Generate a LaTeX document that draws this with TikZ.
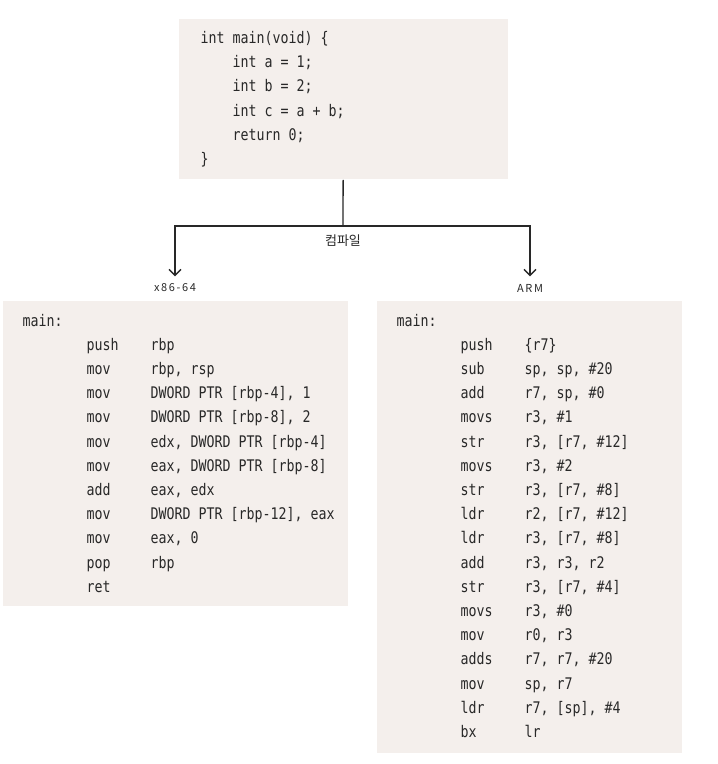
\documentclass[tikz,border=0pt]{standalone}
\usepackage{fontspec}
\setmonofont[FakeStretch=0.83]{DejaVu Sans Mono}
\newfontfamily\krfont{Noto Sans CJK KR}
\newfontfamily\tagfont[LetterSpace=15]{Noto Sans CJK KR}
\usepackage{tikz}
\usetikzlibrary{positioning, arrows.meta}

\definecolor{boxfill}{RGB}{244,239,236}
\definecolor{ink}{RGB}{40,40,40}

\begin{document}
\begin{tikzpicture}[x=1pt, y=-1pt, line width=1.3pt,
    codebox/.style={fill=boxfill, draw=none, anchor=north west, inner sep=0pt},
    code/.style={anchor=base west, inner sep=0pt, text=ink,
      font=\ttfamily\fontsize{16}{24.2}\selectfont},
    tag/.style={text=ink, inner sep=2pt, font=\tagfont\fontsize{11}{13}\selectfont},
    >={Straight Barb[length=6pt, width=12pt]}]
    \useasboundingbox (0, 0) rectangle (718, 764);

    % draw the three grey boxes
    \node[codebox, minimum width=329pt, minimum height=160pt] (src) at (178, 18.5) {};
    \node[codebox, minimum width=345pt, minimum height=304.5pt] (x86) at (2, 300.5) {};
    \node[codebox, minimum width=304.5pt, minimum height=451.5pt] (arm) at (376.5, 300.5) {};

    % draw the C source
    \node[code] (srccode) at (200, 43.5) {\begin{tabular}[t]{@{}l@{}}
      int main(void) \{\\
      \hspace*{32pt}int a = 1;\\
      \hspace*{32pt}int b = 2;\\
      \hspace*{32pt}int c = a + b;\\
      \hspace*{32pt}return 0;\\
      \}
    \end{tabular}};

    % draw the x86-64 listing
    \node[code] (x86code) at (22, 326) {\begin{tabular}[t]{@{}p{64pt}@{}p{64pt}@{}l@{}}
      main: & & \\
      & push & rbp\\
      & mov & rbp, rsp\\
      & mov & DWORD PTR [rbp-4], 1\\
      & mov & DWORD PTR [rbp-8], 2\\
      & mov & edx, DWORD PTR [rbp-4]\\
      & mov & eax, DWORD PTR [rbp-8]\\
      & add & eax, edx\\
      & mov & DWORD PTR [rbp-12], eax\\
      & mov & eax, 0\\
      & pop & rbp\\
      & ret &
    \end{tabular}};

    % draw the ARM listing
    \node[code] (armcode) at (396, 326) {\begin{tabular}[t]{@{}p{64pt}@{}p{64pt}@{}l@{}}
      main: & & \\
      & push & \{r7\}\\
      & sub & sp, sp, \#20\\
      & add & r7, sp, \#0\\
      & movs & r3, \#1\\
      & str & r3, [r7, \#12]\\
      & movs & r3, \#2\\
      & str & r3, [r7, \#8]\\
      & ldr & r2, [r7, \#12]\\
      & ldr & r3, [r7, \#8]\\
      & add & r3, r3, r2\\
      & str & r3, [r7, \#4]\\
      & movs & r3, \#0\\
      & mov & r0, r3\\
      & adds & r7, r7, \#20\\
      & mov & sp, r7\\
      & ldr & r7, [sp], \#4\\
      & bx & lr
    \end{tabular}};

    % draw the labels
    \coordinate (split) at (343, 226);
    \node[tag, font=\krfont\fontsize{13}{15}\selectfont, below=6pt of split] (compile) {컴파일};
    \node[tag] (x86lbl) at (175, 288) {x86-64};
    \node[tag] (armlbl) at (530, 288) {ARM};

    % draw the fork
    \draw[color=ink] (src.south) -- (split);
    \draw[->, color=ink, shorten >=5pt] (split) -| (x86lbl);
    \draw[->, color=ink, shorten >=5pt] (split) -| (armlbl);

\end{tikzpicture}
\end{document}
